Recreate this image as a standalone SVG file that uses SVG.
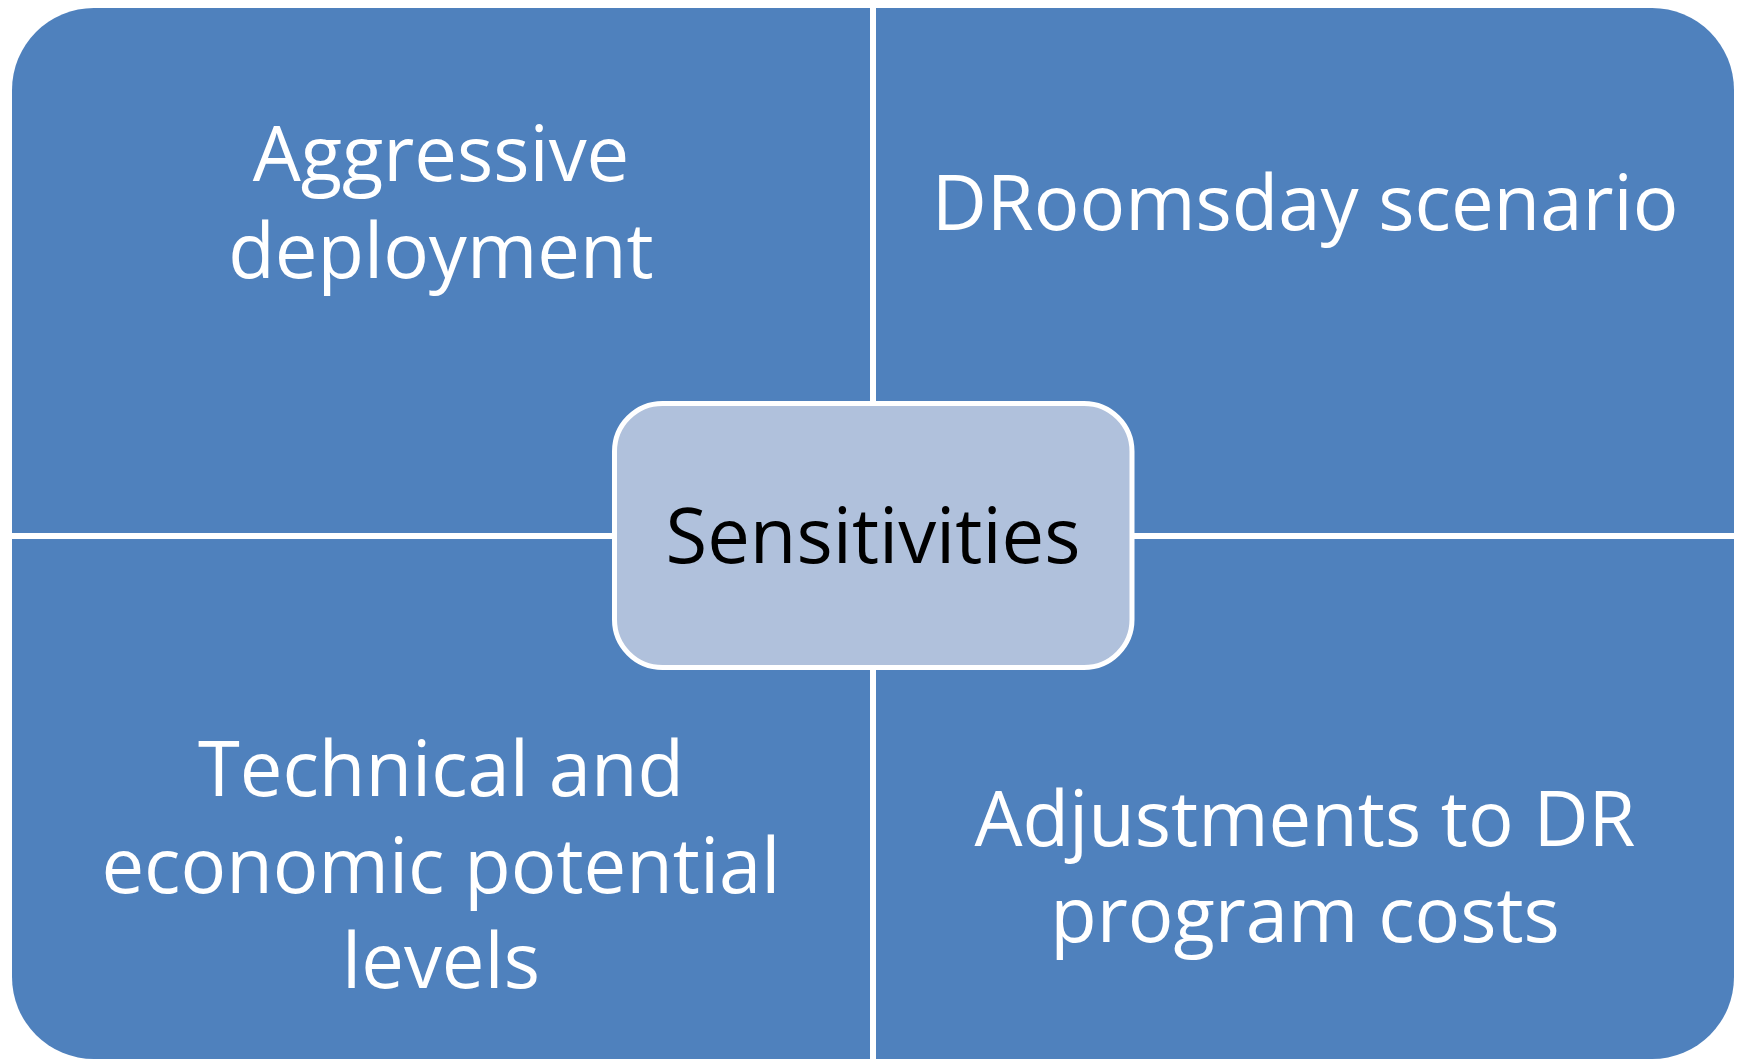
<svg xmlns="http://www.w3.org/2000/svg" width="1741" height="1060" viewBox="0 0 1741 1060">
<style>
.q{fill:#4F81BD}
.t{font-family:"Open Sans","Liberation Sans",sans-serif;font-size:76px;fill:#FFFFFF;text-anchor:middle}
.c{font-family:"Open Sans","Liberation Sans",sans-serif;font-size:76px;fill:#000000;text-anchor:middle}
</style>
<rect width="1741" height="1060" fill="#FFFFFF"/>
<g id="quad-aggressive">
<path class="q" d="M12,533 V90 A82,82 0 0 1 94,8 H870 V533 Z"/>
<text class="t" x="441" y="181">Aggressive</text>
<text class="t" x="441" y="278">deployment</text>
</g>
<g id="quad-droomsday">
<path class="q" d="M876,8 H1652 A82,82 0 0 1 1734,90 V533 H876 Z"/>
<text class="t" x="1305" y="230">DRoomsday scenario</text>
</g>
<g id="quad-technical">
<path class="q" d="M12,539 H870 V1059 H94 A82,82 0 0 1 12,977 Z"/>
<text class="t" x="441" y="796">Technical and</text>
<text class="t" x="441" y="893">economic potential</text>
<text class="t" x="441" y="988">levels</text>
</g>
<g id="quad-adjustments">
<path class="q" d="M876,539 H1734 V977 A82,82 0 0 1 1652,1059 H876 Z"/>
<text class="t" x="1305" y="846">Adjustments to DR</text>
<text class="t" x="1305" y="942">program costs</text>
</g>
<g id="center-sensitivities">
<rect x="614.5" y="403.5" width="517.5" height="264" rx="48" ry="48" fill="#B0C1DC" stroke="#FFFFFF" stroke-width="5"/>
<text class="c" x="873" y="563">Sensitivities</text>
</g>
</svg>
